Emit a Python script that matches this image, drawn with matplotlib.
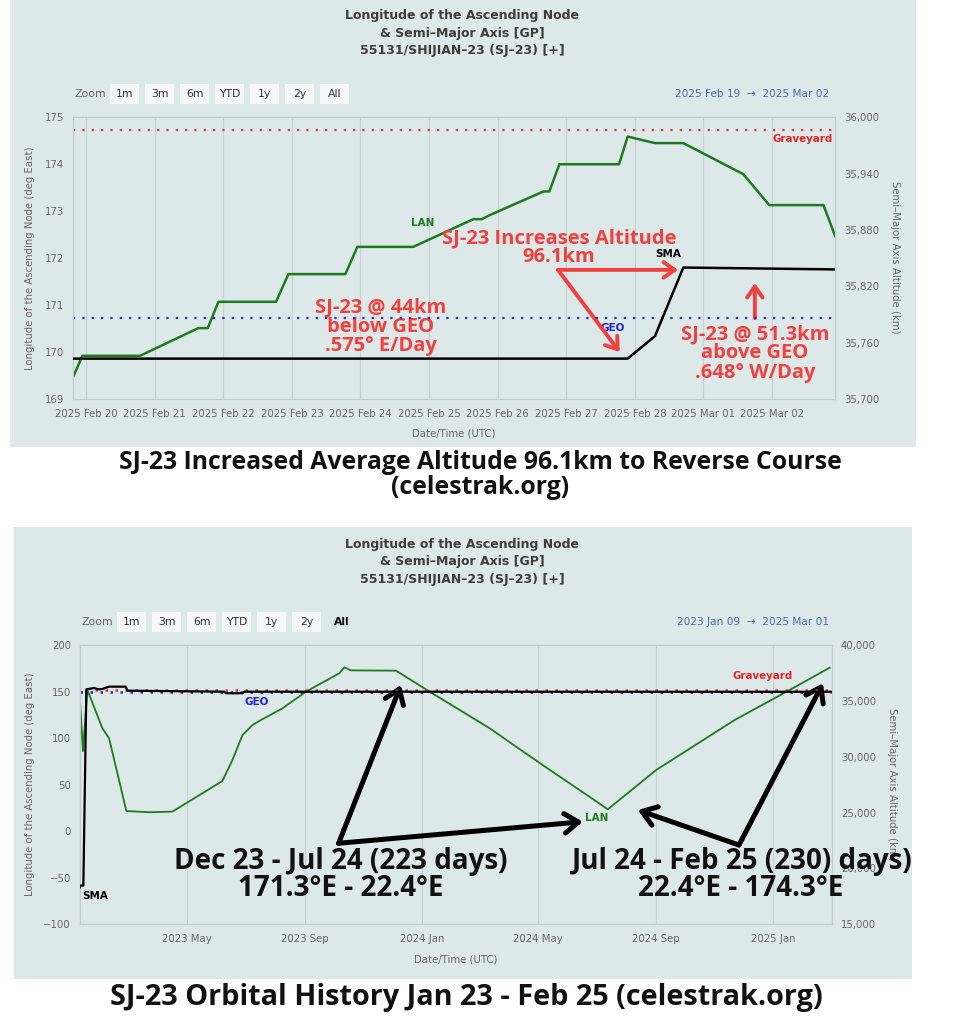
import numpy as np
import pandas as pd
import matplotlib
matplotlib.use('Agg')
import matplotlib.pyplot as plt
import matplotlib.dates as mdates
from matplotlib.patches import Rectangle
from matplotlib.ticker import MultipleLocator, StrMethodFormatter

W, H = 980, 1024

PANEL = '#dde9e8'
GREEN = '#1f7a1f'
RED_LINE = '#e53232'
BLUE_LINE = '#2a2acb'
NOTE_RED = '#f0403f'
GREY = '#666666'
TITLE_C = '#3d3d3d'
RANGE_C = '#4e6aa6'
GRID_C = '#c9d1d1'
NOTE_FONT = ['Open Sans', 'DejaVu Sans']

GEO_KM = 35786
GRAVE_KM = 35986

TITLE = 'Longitude of the Ascending Node\n& Semi\u2013Major Axis [GP]\n55131/SHIJIAN\u201323 (SJ\u201323) [+]'
BUTTONS = ['1m', '3m', '6m', 'YTD', '1y', '2y', 'All']

# ---- top chart: 2025 Feb 19 -> Mar 02 (days after 2025-02-20 00:00)
top_start = '2025-02-20'
top_lan_day = [-0.175, -0.054, 0.787, 1.637, 1.774, 1.93, 2.77, 2.95, 3.78, 3.955,
               4.77, 5.646, 5.77, 5.89, 6.667, 6.754, 6.90, 7.77, 7.896, 8.294,
               8.707, 9.58, 9.96, 10.75, 10.92]
top_lan_deg = [169.51, 169.92, 169.92, 170.51, 170.51, 171.07, 171.07, 171.66, 171.66, 172.24,
               172.24, 172.83, 172.83, 172.92, 173.42, 173.42, 174.00, 174.00, 174.59, 174.45,
               174.45, 173.79, 173.13, 173.13, 172.47]
top_sma_day = [-0.19, 7.896, 8.294, 8.707, 10.92]
top_sma_km = [35743, 35743, 35767, 35840, 35838]
top_xlim = [-0.19, 10.918]

# ---- bottom chart: 2023 Jan 09 -> 2025 Mar 01 (days after 2023-01-09)
bot_start = '2023-01-09'
bot_lan_day = [0.5, 0.9, 3.8, 8.4, 24, 31, 49, 73, 97, 149, 159.5, 170, 180.4, 189.2,
               211.7, 236, 270.8, 276, 283, 330, 365, 427, 477.6, 550.6, 601, 682.7,
               740, 781.7]
bot_lan_deg = [-62, 138, 86, 152, 110.7, 99.9, 21.6, 20.3, 21, 53.9, 76.5, 103.4, 114.2, 119.6,
               132.2, 150, 169.9, 176.3, 173, 172.7, 150, 111, 74.7, 23.5, 65.8, 119.6,
               151.9, 175.9]
bot_sma_day = [0.7, 1.5, 4.2, 7.3, 15.3, 20, 24, 31, 48.4, 50, 150.9, 152.7, 170, 171.7, 784]
bot_sma_km = [18300, 18450, 18450, 36050, 36170, 36050, 36080, 36290, 36290, 35930,
              35840, 35700, 35700, 35840, 35830]
bot_xlim = [0.7, 784.1]


def when(start, days):
    return pd.Timestamp(start) + pd.to_timedelta(np.asarray(days, dtype=float), unit='D')


def rect(x0, y0, x1, y1):
    return [x0 / W, 1 - y1 / H, (x1 - x0) / W, (y1 - y0) / H]


def ftext(x, y, s, **kw):
    fig.text(x / W, 1 - y / H, s, **kw)


def chrome(y_title, y_btn, btn_x0, range_txt, all_box, y_panel):
    fig.add_artist(Rectangle((y_panel[0] / W, 1 - y_panel[3] / H),
                             (y_panel[2] - y_panel[0]) / W, (y_panel[3] - y_panel[1]) / H,
                             transform=fig.transFigure, facecolor=PANEL, edgecolor='none', zorder=-5))
    ftext(462, y_title, TITLE, ha='center', va='center', fontsize=9, fontweight='bold',
          color=TITLE_C, linespacing=1.45)
    ftext(btn_x0 - 20, y_btn, 'Zoom', ha='center', va='center', fontsize=7.8, color=GREY)
    for i, b in enumerate(BUTTONS):
        x = btn_x0 + i * 35
        last = (b == 'All' and not all_box)
        if not last:
            fig.add_artist(Rectangle((x / W, 1 - (y_btn + 10) / H), 29 / W, 20 / H,
                                     transform=fig.transFigure, facecolor='#f6f7f7',
                                     edgecolor='none', zorder=1))
        ftext(x + 14.5, y_btn, b, ha='center', va='center', fontsize=7.8, color='#111' if last else '#333',
              fontweight='bold' if last else 'normal', zorder=2)
    ftext(829, y_btn, range_txt, ha='right', va='center', fontsize=7.6, color=RANGE_C)


def style_axes(ax, axr):
    ax.set_facecolor('none')
    for a in (ax, axr):
        for s in a.spines.values():
            s.set_color('#c3cccc')
            s.set_linewidth(0.8)
        a.tick_params(length=0, labelsize=7.3, labelcolor=GREY, pad=6.5)
    ax.tick_params(axis='x', pad=7)
    ax.grid(axis='x', color=GRID_C, lw=0.9)
    ax.set_axisbelow(True)


fig = plt.figure(figsize=(W / 100, H / 100), dpi=100)

# ================= top chart =================
chrome(33, 94, 110, '2025 Feb 19  \u2192  2025 Mar 02', True, (10, 0, 916, 447))
ax1 = fig.add_axes(rect(73, 117.3, 835, 399))
ax1r = ax1.twinx()
style_axes(ax1, ax1r)
ax1.plot(when(top_start, top_lan_day), top_lan_deg, color=GREEN, lw=1.8, zorder=4)
ax1r.plot(when(top_start, top_sma_day), top_sma_km, color='black', lw=1.8, zorder=4)
ax1r.axhline(GRAVE_KM, color=RED_LINE, lw=1.6, ls=(0, (1, 3.2)))
ax1r.axhline(GEO_KM, color=BLUE_LINE, lw=1.6, ls=(0, (1, 3.2)))
ax1.set_xlim(when(top_start, top_xlim))
ax1.set_ylim(169, 175)
ax1r.set_ylim(35700, 36000)
ax1.yaxis.set_major_locator(MultipleLocator(1))
ax1r.yaxis.set_major_locator(MultipleLocator(60))
ax1r.yaxis.set_major_formatter(StrMethodFormatter('{x:,.0f}'))
ax1.xaxis.set_major_locator(mdates.DayLocator())
ax1.xaxis.set_major_formatter(mdates.DateFormatter('%Y %b %d'))

d = lambda t: when(top_start, [t])[0]
ax1.text(d(4.91), 172.75, 'LAN', color=GREEN, fontsize=7.5, fontweight='bold', ha='center', va='center')
ax1.text(d(8.48), 172.08, 'SMA', color='black', fontsize=7.5, fontweight='bold', ha='center', va='center')
ax1.text(d(7.68), 170.51, 'GEO', color='#2020cc', fontsize=7.5, fontweight='bold', ha='center', va='center')
ax1.text(d(10.45), 174.54, 'Graveyard', color='#e02424', fontsize=7.4, fontweight='bold', ha='center', va='center')

ax1.text(d(6.895), 172.22, 'SJ-23 Increases Altitude\n96.1km', color=NOTE_RED, fontsize=14.5,
         family=NOTE_FONT, fontweight='bold', ha='center', va='center', linespacing=0.95, zorder=6)
ax1.text(d(4.3), 170.54, 'SJ-23 @ 44km\nbelow GEO\n.575\u00b0 E/Day', color=NOTE_RED, fontsize=14.5,
         family=NOTE_FONT, fontweight='bold', ha='center', va='center', linespacing=0.95, zorder=6)
ax1.text(d(9.75), 169.97, 'SJ-23 @ 51.3km\nabove GEO\n.648\u00b0 W/Day', color=NOTE_RED, fontsize=14.5,
         family=NOTE_FONT, fontweight='bold', ha='center', va='center', linespacing=0.95, zorder=6)
red_arrow = dict(arrowstyle='->,head_length=0.4,head_width=0.28', color=NOTE_RED, lw=2.8,
                 mutation_scale=20, shrinkA=0, shrinkB=0)
ax1.annotate('', xy=(d(8.63), 171.75), xytext=(d(6.88), 171.75), arrowprops=red_arrow, zorder=6)
ax1.annotate('', xy=(d(7.78), 170.0), xytext=(d(6.88), 171.75), arrowprops=red_arrow, zorder=6)
ax1.annotate('', xy=(d(9.75), 171.47), xytext=(d(9.75), 170.72), arrowprops=red_arrow, zorder=6)

ftext(30, 258, 'Longitude of the Ascending Node (deg East)', rotation=90, ha='center', va='center',
      fontsize=7.3, color=GREY)
ftext(895, 257, 'Semi\u2013Major Axis Altitude (km)', rotation=270, ha='center', va='center',
      fontsize=7.3, color=GREY)
ftext(454, 433, 'Date/Time (UTC)', ha='center', va='center', fontsize=7.3, color=GREY)

ftext(480, 475, 'SJ-23 Increased Average Altitude 96.1km to Reverse Course\n(celestrak.org)',
      ha='center', va='center', fontsize=17.8, family=NOTE_FONT, fontweight='bold', color='#111',
      linespacing=0.95)

# ================= bottom chart =================
chrome(562, 621.7, 117, '2023 Jan 09  \u2192  2025 Mar 01', False, (14, 527, 912, 979))
ax2 = fig.add_axes(rect(80, 645.3, 832, 924))
ax2r = ax2.twinx()
style_axes(ax2, ax2r)
ax2.plot(when(bot_start, bot_lan_day), bot_lan_deg, color=GREEN, lw=1.3, zorder=4)
ax2r.plot(when(bot_start, bot_sma_day), bot_sma_km, color='black', lw=1.6, zorder=4)
ax2r.axhline(GRAVE_KM, color=RED_LINE, lw=1.8, ls=(2, (1, 3)))
ax2r.axhline(GEO_KM, color=BLUE_LINE, lw=1.8, ls=(0, (1, 3)))
ax2.set_xlim(when(bot_start, bot_xlim))
ax2.set_ylim(-100, 200)
ax2r.set_ylim(15000, 40000)
ax2.yaxis.set_major_locator(MultipleLocator(50))
ax2r.yaxis.set_major_locator(MultipleLocator(5000))
ax2r.yaxis.set_major_formatter(StrMethodFormatter('{x:,.0f}'))
ax2.xaxis.set_major_locator(mdates.MonthLocator(bymonth=[1, 5, 9]))
ax2.xaxis.set_major_formatter(mdates.DateFormatter('%Y %b'))

b = lambda t: when(bot_start, [t])[0]
ax2.text(b(185), 139.3, 'GEO', color='#2020cc', fontsize=7.5, fontweight='bold', ha='center', va='center')
ax2.text(b(711.5), 167, 'Graveyard', color='#e02424', fontsize=7.4, fontweight='bold', ha='center', va='center')
ax2.text(b(539), 13.8, 'LAN', color=GREEN, fontsize=7.5, fontweight='bold', ha='center', va='center')
ax2.text(b(16.4), -69.5, 'SMA', color='black', fontsize=7.5, fontweight='bold', ha='center', va='center')

blk_arrow = dict(arrowstyle='->,head_length=0.5,head_width=0.35', color='black', lw=3.6,
                 mutation_scale=20, shrinkA=0, shrinkB=0)
ax2.annotate('', xy=(b(335.1), 157.3), xytext=(b(270.1), -13.1), arrowprops=blk_arrow, zorder=6)
ax2.annotate('', xy=(b(524.5), 10.1), xytext=(b(270.1), -13.1), arrowprops=blk_arrow, zorder=6)
ax2.annotate('', xy=(b(581.8), 22.7), xytext=(b(687.2), -15.0), arrowprops=blk_arrow, zorder=6)
ax2.annotate('', xy=(b(774.7), 159.1), xytext=(b(687.2), -15.0), arrowprops=blk_arrow, zorder=6)

ftext(30, 784, 'Longitude of the Ascending Node (deg East)', rotation=90, ha='center', va='center',
      fontsize=7.3, color=GREY)
ftext(892, 784, 'Semi\u2013Major Axis Altitude (km)', rotation=270, ha='center', va='center',
      fontsize=7.3, color=GREY)
ftext(456, 959, 'Date/Time (UTC)', ha='center', va='center', fontsize=7.3, color=GREY)

ftext(341, 875, 'Dec 23 - Jul 24 (223 days)\n171.3\u00b0E - 22.4\u00b0E', ha='center', va='center',
      fontsize=20, family=NOTE_FONT, fontweight='bold', color='#111', linespacing=0.9, zorder=8)
ftext(741, 875, 'Jul 24 - Feb 25 (230) days)\n22.4\u00b0E - 174.3\u00b0E', ha='center', va='center',
      fontsize=20, family=NOTE_FONT, fontweight='bold', color='#111', linespacing=0.9, zorder=8)

ftext(466, 997, 'SJ-23 Orbital History Jan 23 - Feb 25 (celestrak.org)', ha='center', va='center',
      fontsize=20.8, family=NOTE_FONT, fontweight='bold', color='#111')

fig.savefig('out.png', dpi=100)
